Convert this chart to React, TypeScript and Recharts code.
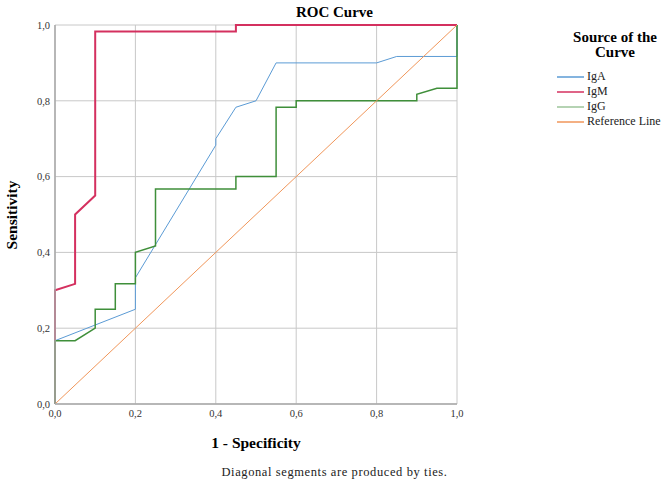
import { LineChart, Line, XAxis, YAxis, CartesianGrid } from 'recharts'

// curve points (1 - specificity, sensitivity)
const igaX = [0, 0, 0.2, 0.2, 0.4, 0.4, 0.45, 0.5, 0.55, 0.8, 0.85, 1, 1]
const igaY = [0, 0.167, 0.25, 0.333, 0.683, 0.7, 0.783, 0.8, 0.9, 0.9, 0.917, 0.917, 1]

const igmX = [0, 0, 0.05, 0.05, 0.1, 0.1, 0.45, 0.45, 1]
const igmY = [0, 0.3, 0.317, 0.5, 0.55, 0.983, 0.983, 1, 1]

const iggX = [0, 0, 0.05, 0.1, 0.1, 0.15, 0.15, 0.2, 0.2, 0.25, 0.25, 0.45, 0.45, 0.55, 0.55, 0.6, 0.6, 0.9, 0.9, 0.95, 1, 1]
const iggY = [0, 0.167, 0.167, 0.2, 0.25, 0.25, 0.317, 0.317, 0.4, 0.417, 0.567, 0.567, 0.6, 0.6, 0.783, 0.783, 0.8, 0.8, 0.817, 0.833, 0.833, 1]

const refX = [0, 1]
const refY = [0, 1]

const ticks = [0, 0.2, 0.4, 0.6, 0.8, 1]

const seriesNames = ['IgA', 'IgM', 'IgG', 'Reference Line']
const seriesColors = ['#5b9bd5', '#d4305f', '#3f8f3a', '#f0965a']
const legendColors = ['#5b9bd5', '#d4305f', '#9cc49a', '#f0965a']

const toPoints = (xs: number[], ys: number[]) => xs.map((x, i) => ({ x, y: ys[i] }))

const fmt = (v: number) => v.toFixed(1).replace('.', ',')

const serif = '"Liberation Serif", "DejaVu Serif", serif'

export default function App() {
  const series = [
    toPoints(igaX, igaY),
    toPoints(igmX, igmY),
    toPoints(iggX, iggY),
    toPoints(refX, refY),
  ]
  const widths = [1, 2, 1.5, 1]

  return (
    <div style={{ position: 'absolute', left: 0, top: 0, width: 669, height: 483, fontFamily: serif, background: '#fff', overflow: 'hidden' }}>
      <LineChart width={669} height={483} margin={{ top: 25, right: 212, left: 0, bottom: 0 }}>
        <CartesianGrid stroke='#c8c8c8' strokeWidth={1} horizontalValues={ticks} verticalValues={ticks} />
        <XAxis
          type='number'
          dataKey='x'
          domain={[0, 1]}
          ticks={ticks}
          tickFormatter={fmt}
          height={79}
          tickSize={0}
          tickMargin={6}
          stroke='#a8a8a8'
          strokeWidth={1.5}
          tick={{ fill: '#333', fontSize: 10.5, fontFamily: serif }}
        />
        <YAxis
          type='number'
          domain={[0, 1]}
          ticks={ticks}
          tickFormatter={fmt}
          width={55}
          tickSize={0}
          tickMargin={5}
          stroke='#a8a8a8'
          strokeWidth={1.5}
          tick={{ fill: '#333', fontSize: 10.5, fontFamily: serif }}
        />
        {series.map((pts, i) => (
          <Line
            key={seriesNames[i]}
            data={pts}
            dataKey='y'
            type='linear'
            stroke={seriesColors[i]}
            strokeWidth={widths[i]}
            dot={false}
            activeDot={false}
            isAnimationActive={false}
          />
        ))}
      </LineChart>

      <div style={{ position: 'absolute', left: 0, width: 669, top: 3, textAlign: 'center', fontWeight: 'bold', fontSize: 15, lineHeight: '18px' }}>
        ROC Curve
      </div>
      <div
        style={{
          position: 'absolute',
          left: 12,
          top: 215,
          transform: 'translate(-50%, -50%) rotate(-90deg)',
          fontWeight: 'bold',
          fontSize: 15.5,
          whiteSpace: 'nowrap',
        }}
      >
        Sensitivity
      </div>
      <div style={{ position: 'absolute', left: 55, width: 402, top: 434, textAlign: 'center', fontWeight: 'bold', fontSize: 15.5, lineHeight: '18px' }}>
        1 - Specificity
      </div>
      <div style={{ position: 'absolute', left: 0, width: 669, top: 465, textAlign: 'center', fontSize: 12.5, letterSpacing: 0.6, lineHeight: '15px', color: '#222' }}>
        Diagonal segments are produced by ties.
      </div>

      <div style={{ position: 'absolute', left: 555, width: 120, top: 30, textAlign: 'center', fontWeight: 'bold', fontSize: 15, lineHeight: '15px' }}>
        Source of the
        <br />
        Curve
      </div>
      <div style={{ position: 'absolute', left: 557, top: 69, fontSize: 12, color: '#222' }}>
        {seriesNames.map((name, i) => (
          <div key={name} style={{ display: 'flex', alignItems: 'center', height: 15, whiteSpace: 'nowrap' }}>
            <svg width={27} height={4} style={{ marginRight: 3 }}>
              <line x1={0} y1={2} x2={27} y2={2} stroke={legendColors[i]} strokeWidth={1.5} />
            </svg>
            {name}
          </div>
        ))}
      </div>
    </div>
  )
}
